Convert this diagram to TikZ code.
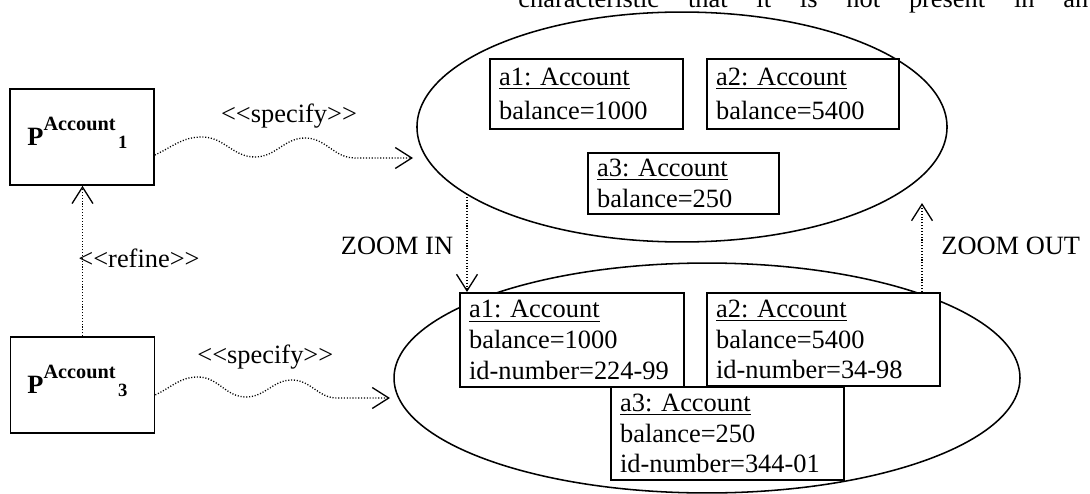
\documentclass[tikz,border=0pt]{standalone}
\usepackage{fontspec}
\setmainfont{Liberation Serif}
\usetikzlibrary{arrows.meta,shapes.geometric}
\frenchspacing

% model name P^Account with its index
\newcommand\modelname[1]{\bfseries P\raisebox{6.8pt}{\fontsize{9.2}{9.2}\selectfont Account}\kern1.2pt\raisebox{-1.4pt}{\fontsize{8.5}{8.5}\selectfont #1}}

\begin{document}
\begin{tikzpicture}[x=0.4545pt,y=-0.4545pt,
  every node/.style={font=\fontsize{12}{14}\selectfont},
  pbox/.style={draw, line width=0.8pt, minimum width=65.4pt, minimum height=43.6pt, inner sep=0pt},
  objbox/.style={draw, fill=white, line width=0.8pt, anchor=north west, inner xsep=4.2pt, inner ysep=0pt, align=left},
  toplines/.style={font=\fontsize{12}{15.5}\selectfont},
  lowlines/.style={font=\fontsize{12}{13.9}\selectfont},
  cloud/.style={draw, ellipse, line width=0.7pt, inner sep=0pt},
  dep/.style={line width=0.6pt, dash pattern=on 0.5pt off 0.8pt,
    -{Straight Barb[length=7.5pt,width=9.5pt,line width=0.6pt]}},
  tag/.style={inner sep=0pt, anchor=base}
]
\useasboundingbox (0,0) rectangle (1090,493);
\clip (0,0) rectangle (1090,493);

% running text line above the figure
\node[tag, anchor=base west] (ctx) at (518,8)
  {\makebox[259pt][s]{characteristic that it is not present in an}};

% object populations
\node[cloud, minimum width=240.9pt, minimum height=104.5pt] (popA) at (682,127) {};
\node[cloud, minimum width=284.5pt, minimum height=104.5pt] (popB) at (707,378) {};

% objects of the coarse model
\node[objbox, toplines, text width=79.3pt, minimum height=31.8pt] (ta1) at (489,58)
  {\underline{a1: Account}\\balance=1000};
\node[objbox, toplines, text width=78.9pt, minimum height=31.8pt] (ta2) at (706,58)
  {\underline{a2: Account}\\balance=5400};
\node[objbox, font=\fontsize{12}{14.5}\selectfont, text width=78.4pt, minimum height=27.7pt] (ta3) at (587,152)
  {\underline{a3: Account}\\balance=250};

% objects of the refined model
\node[objbox, lowlines, text width=93.4pt, minimum height=42.7pt] (ba1) at (459,292)
  {\underline{a1: Account}\\balance=1000\\id-number=224-99};
\node[objbox, lowlines, text width=97.5pt, minimum height=42.3pt] (ba2) at (706,292)
  {\underline{a2: Account}\\balance=5400\\id-number=34-98};
\node[objbox, lowlines, text width=97.5pt, minimum height=42.3pt] (ba3) at (610,386)
  {\underline{a3: Account}\\balance=250\\id-number=344-01};

% specifications
\node[pbox] (p1) at (82,137) {};
\node[pbox] (p3) at (82.5,385) {};
\node[tag, anchor=base west] (p1t) at (27,145) {\modelname{1}};
\node[tag, anchor=base west] (p3t) at (27,393) {\modelname{3}};

% refinement
\draw[dep] (p3.north) -- (p3.north |- p1.south);
\node[tag, anchor=base west] (lref) at (78,267) {<{}<refine>{}>};

% specify relations
\coordinate (s1) at (413,158);
\draw[dep] ([yshift=-8.2pt]p1.east) to[out=25,in=180] (202,137) to[out=0,in=180] (255,157)
  to[out=0,in=180] (305,138) to[out=0,in=180] (355,158) -- (s1);
\node[tag] (lsp1) at (289,123) {<{}<specify>{}>};

\coordinate (s3) at (390,398);
\draw[dep] ([yshift=-4.5pt]p3.east) to[out=25,in=180] (198,377) to[out=0,in=180] (246,397)
  to[out=0,in=180] (292,380) to[out=0,in=180] (337,398) -- (s3);
\node[tag, anchor=base west] (lsp3) at (197,363) {<{}<specify>{}>};

% zooming
\coordinate (zin) at (467,194);
\draw[dep] (zin) -- (zin |- ba1.north);
\node[tag] (lzin) at (397,254) {ZOOM IN};

\coordinate (zout) at (922,203);
\draw[dep] (ba2.north -| zout) -- (zout);
\node[tag, anchor=base west] (lzout) at (941,254) {ZOOM OUT};
\end{tikzpicture}
\end{document}
